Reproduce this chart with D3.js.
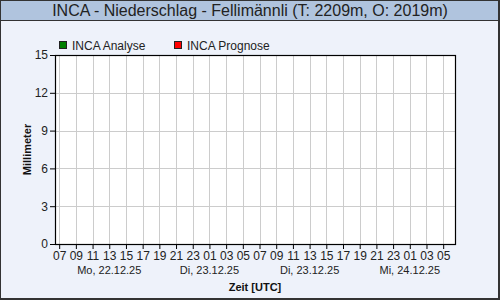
<!DOCTYPE html>
<html>
<head>
<meta charset="utf-8">
<script src="https://cdn.jsdelivr.net/npm/d3@7"></script>
<style>
  body { margin: 0; background: #fff; }
  svg text { font-family: "Liberation Sans", Arial, sans-serif; }
</style>
</head>
<body>
<svg id="chart" width="500" height="300"></svg>
<script>
// data
var title = "INCA - Niederschlag - Fellimännli (T: 2209m, O: 2019m)";
var seriesNames = ["INCA Analyse", "INCA Prognose"];
var seriesColors = ["#008000", "#ff0000"];
var analyseValues = [];   // no precipitation in the picture
var prognoseValues = [];
var timeStart = "2025-12-22T06:30:00Z";
var timeEnd = "2025-12-24T06:25:00Z";
var firstTick = "2025-12-22T07:00:00Z";
var yTicks = [0, 3, 6, 9, 12, 15];
var dayLabels = [
  { t: "2025-12-22T13:00:00Z", label: "Mo, 22.12.25" },
  { t: "2025-12-23T01:00:00Z", label: "Di, 23.12.25" },
  { t: "2025-12-23T13:00:00Z", label: "Di, 23.12.25" },
  { t: "2025-12-24T01:00:00Z", label: "Mi, 24.12.25" }
];

var svg = d3.select("#chart"),
  W = 500, H = 300,
  margin = { top: 55, right: 45, bottom: 56, left: 55 },
  width = W - margin.left - margin.right,
  height = H - margin.top - margin.bottom;

// background + frame
svg.append("rect").attr("x", 0).attr("y", 0).attr("width", W).attr("height", H)
  .attr("fill", "#eef2fa");
svg.append("rect").attr("x", 0).attr("y", 0).attr("width", W).attr("height", 20)
  .attr("fill", "#b0c4de");
svg.append("line").attr("x1", 0).attr("x2", W).attr("y1", 20.5).attr("y2", 20.5)
  .attr("stroke", "#333").attr("stroke-width", 1);
svg.append("rect").attr("x", 0.5).attr("y", 0.5).attr("width", W - 2).attr("height", H - 2)
  .attr("fill", "none").attr("stroke", "#333").attr("stroke-width", 1);
svg.append("line").attr("x1", W - 1).attr("x2", W - 1).attr("y1", 0).attr("y2", H)
  .attr("stroke", "#333").attr("stroke-width", 2);
svg.append("line").attr("x1", 0).attr("x2", W).attr("y1", H - 1).attr("y2", H - 1)
  .attr("stroke", "#333").attr("stroke-width", 2);

svg.append("text").attr("x", 250).attr("y", 16)
  .attr("text-anchor", "middle").attr("font-size", 16).attr("fill", "#222")
  .text(title);

// legend
var legend = svg.append("g").attr("transform", "translate(59,41)");
var lx = [0, 115];
seriesNames.forEach(function (name, i) {
  legend.append("rect").attr("x", lx[i] + 0.5).attr("y", 0.5).attr("width", 7).attr("height", 7)
    .attr("fill", seriesColors[i]).attr("stroke", "#222").attr("stroke-width", 1);
  legend.append("text").attr("x", lx[i] + 13).attr("y", 8.5)
    .attr("font-size", 12).attr("fill", "#222").text(name);
});

var x = d3.scaleUtc().domain([new Date(timeStart), new Date(timeEnd)]).range([0, width]);
var y = d3.scaleLinear().domain([0, 15]).range([height, 0]);

var g = svg.append("g").attr("transform", "translate(" + margin.left + "," + margin.top + ")");

g.append("rect").attr("width", width).attr("height", height).attr("fill", "#fff");

var xTickVals = d3.utcHour.range(new Date(firstTick), new Date(timeEnd), 2);

// grid
g.append("g").selectAll("line").data(xTickVals).enter().append("line")
  .attr("x1", function (d) { return Math.round(x(d)) + 0.5; })
  .attr("x2", function (d) { return Math.round(x(d)) + 0.5; })
  .attr("y1", 0).attr("y2", height)
  .attr("stroke", "#cccccc");
g.append("g").selectAll("line").data(yTicks.slice(1, -1)).enter().append("line")
  .attr("x1", 0).attr("x2", width)
  .attr("y1", function (d) { return Math.round(y(d)) + 0.5; })
  .attr("y2", function (d) { return Math.round(y(d)) + 0.5; })
  .attr("stroke", "#cccccc");

// bars (none in this picture)
var bw = x(new Date("2025-12-22T07:00:00Z")) - x(new Date("2025-12-22T06:00:00Z"));
g.selectAll(".bar-a").data(analyseValues).enter().append("rect")
  .attr("x", function (d) { return x(new Date(d.t)); })
  .attr("width", bw).attr("y", function (d) { return y(d.v); })
  .attr("height", function (d) { return height - y(d.v); }).attr("fill", seriesColors[0]);
g.selectAll(".bar-p").data(prognoseValues).enter().append("rect")
  .attr("x", function (d) { return x(new Date(d.t)); })
  .attr("width", bw).attr("y", function (d) { return y(d.v); })
  .attr("height", function (d) { return height - y(d.v); }).attr("fill", seriesColors[1]);

g.append("rect").attr("x", 0.5).attr("y", 0.5).attr("width", width).attr("height", height)
  .attr("fill", "none").attr("stroke", "#000").attr("stroke-width", 1.2);

// axes
var xAxis = d3.axisBottom(x).tickValues(xTickVals).tickSize(5).tickPadding(2)
  .tickFormat(d3.utcFormat("%H"));
var gx = g.append("g").attr("transform", "translate(0," + height + ")").call(xAxis);
gx.select(".domain").remove();
gx.selectAll("line").attr("stroke", "#000");
gx.selectAll("text").attr("font-size", 12).attr("fill", "#222")
  .attr("font-family", "Liberation Sans, Arial, sans-serif");

var yAxis = d3.axisLeft(y).tickValues(yTicks).tickSize(5).tickPadding(2);
var gy = g.append("g").call(yAxis);
gy.select(".domain").remove();
gy.selectAll("line").attr("stroke", "#000");
gy.selectAll("text").attr("font-size", 12).attr("fill", "#222")
  .attr("font-family", "Liberation Sans, Arial, sans-serif");

g.append("g").selectAll("text").data(dayLabels).enter().append("text")
  .attr("x", function (d) { return x(new Date(d.t)); })
  .attr("y", height + 30)
  .attr("text-anchor", "middle").attr("font-size", 11).attr("fill", "#222")
  .text(function (d) { return d.label; });

svg.append("text").attr("x", margin.left + width / 2).attr("y", 291)
  .attr("text-anchor", "middle").attr("font-size", 11).attr("font-weight", "bold").attr("fill", "#111")
  .text("Zeit [UTC]");

svg.append("text").attr("transform", "translate(31," + (margin.top + height / 2) + ") rotate(-90)")
  .attr("text-anchor", "middle").attr("font-size", 11).attr("font-weight", "bold").attr("fill", "#111")
  .text("Millimeter");
</script>
</body>
</html>
